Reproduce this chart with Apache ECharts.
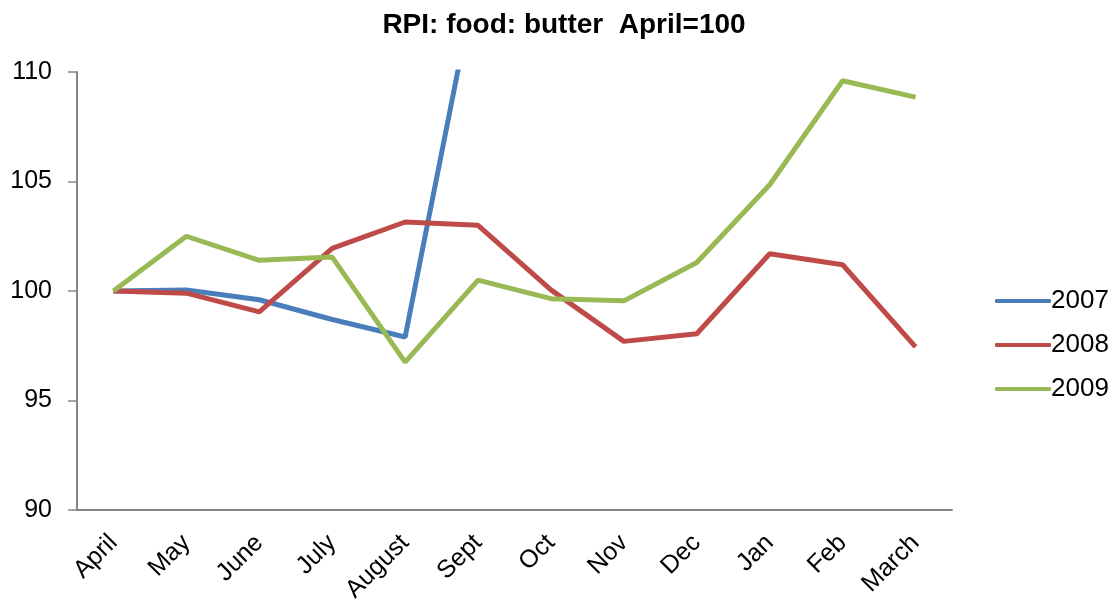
<!DOCTYPE html>
<html>
<head>
<meta charset="utf-8">
<script src="https://cdn.jsdelivr.net/npm/echarts@6/dist/echarts.min.js"></script>
<style>
  html, body { margin: 0; padding: 0; background: #fff; }
  #main { width: 1116px; height: 615px; }
</style>
</head>
<body>
<div id="main"></div>
<script>
// months, April=100
var months = ['April', 'May', 'June', 'July', 'August', 'Sept', 'Oct', 'Nov', 'Dec', 'Jan', 'Feb', 'March'];
// 2007 goes off the top of the chart after August
var y2007 = [100, 100.05, 99.6, 98.7, 97.9, 114.7, 118, 122, 125, 127, 128, 130];
var y2008 = [100, 99.9, 99.05, 101.95, 103.15, 103.0, 100.05, 97.7, 98.05, 101.7, 101.2, 97.45];
var y2009 = [100, 102.5, 101.4, 101.55, 96.75, 100.5, 99.65, 99.55, 101.3, 104.85, 109.6, 108.85];
var yTicks = [90, 95, 100, 105, 110];

var font = 'Arial, "Liberation Sans", sans-serif';
var axisGrey = '#868686';

function line(name, data, color) {
  return {
    name: name,
    type: 'line',
    data: data,
    symbol: 'none',
    clip: true,
    lineStyle: { color: color, width: 5 },
    itemStyle: { color: color }
  };
}

var myChart = echarts.init(document.getElementById('main'));
myChart.setOption({
  animation: false,
  title: {
    text: 'RPI: food: butter  April=100',
    left: 559,
    textAlign: 'center',
    top: 6,
    textStyle: { fontFamily: font, fontSize: 28, fontWeight: 'bold', color: '#000' }
  },
  legend: {
    orient: 'vertical',
    left: 990,
    top: 283,
    itemWidth: 56,
    itemHeight: 4,
    itemGap: 18,
    icon: 'roundRect',
    textStyle: { fontFamily: font, fontSize: 26, color: '#000', padding: [0, 0, 0, -5] },
    data: ['2007', '2008', '2009']
  },
  grid: { left: 77, right: 164, top: 72, bottom: 105 },
  xAxis: {
    type: 'category',
    data: months,
    boundaryGap: true,
    axisLine: { lineStyle: { color: axisGrey, width: 2 } },
    axisTick: { length: 6, lineStyle: { color: axisGrey, width: 1.5 } },
    axisLabel: {
      rotate: 45,
      margin: 29,
      fontFamily: font,
      fontSize: 25,
      color: '#000'
    }
  },
  yAxis: {
    type: 'value',
    min: 90,
    max: 110,
    interval: 5,
    axisLine: { show: true, lineStyle: { color: axisGrey, width: 2 } },
    axisTick: { show: true, length: 9, lineStyle: { color: axisGrey, width: 1.5 } },
    splitLine: { show: false },
    axisLabel: {
      margin: 25,
      fontFamily: font,
      fontSize: 25,
      color: '#000',
      formatter: function (v) { return yTicks.indexOf(v) >= 0 ? String(v) : ''; }
    }
  },
  series: [
    line('2007', y2007, '#4a7ebb'),
    line('2008', y2008, '#be4b48'),
    line('2009', y2009, '#98b954')
  ]
});
</script>
</body>
</html>
